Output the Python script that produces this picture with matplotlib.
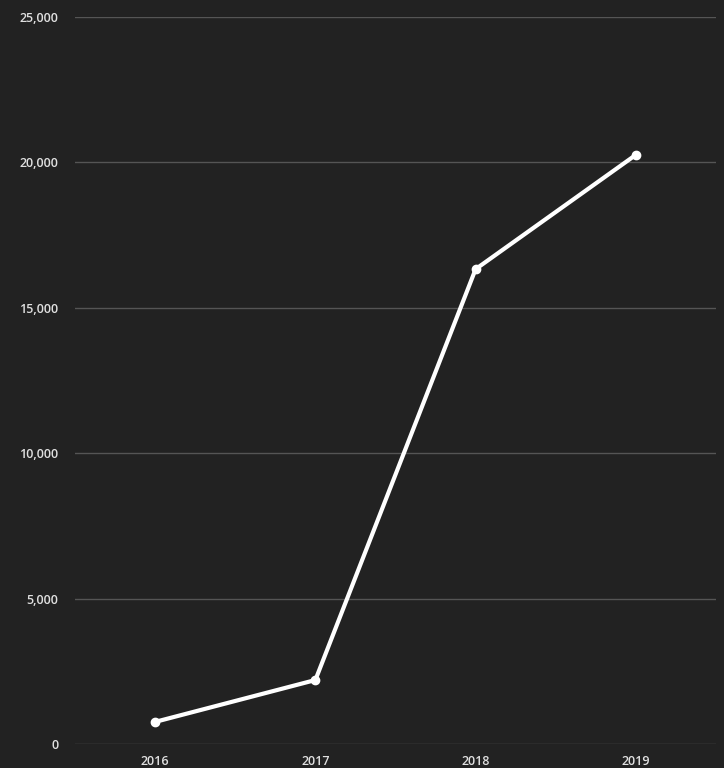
import matplotlib
matplotlib.use("Agg")
from matplotlib import pyplot as plt

years = ["2016", "2017", "2018", "2019"]
values = [760, 2200, 16330, 20260]
y_ticks = [0, 5000, 10000, 15000, 20000, 25000]

plt.rcParams['font.family'] = ['Open Sans', 'DejaVu Sans']

bg = '#222222'
fig = plt.figure(figsize=(7.24, 7.68), dpi=100, facecolor=bg)
ax = fig.add_axes([75 / 724, 24 / 768, 641 / 724, 727 / 768])
ax.set_facecolor(bg)

x = list(range(len(years)))
ax.plot(x, values, color='white', linewidth=3, marker='o', markersize=6,
        markerfacecolor='white', markeredgecolor='white', zorder=3)

ax.set_xlim(-0.5, 3.5)
ax.set_ylim(0, 25000)
ax.set_xticks(x)
ax.set_xticklabels(years)
ax.set_yticks(y_ticks)
ax.set_yticklabels(['{:,}'.format(v) for v in y_ticks])

ax.grid(axis='y', color='#555555', linewidth=1)
ax.set_axisbelow(True)
for s in ax.spines.values():
    s.set_visible(False)
ax.tick_params(length=0, colors='#e0e0e0', labelsize=9)
ax.tick_params(axis='y', pad=12)
ax.tick_params(axis='x', pad=8)
for lab in ax.get_xticklabels() + ax.get_yticklabels():
    lab.set_fontweight('semibold')

fig.savefig('out.png', dpi=100, facecolor=bg)
